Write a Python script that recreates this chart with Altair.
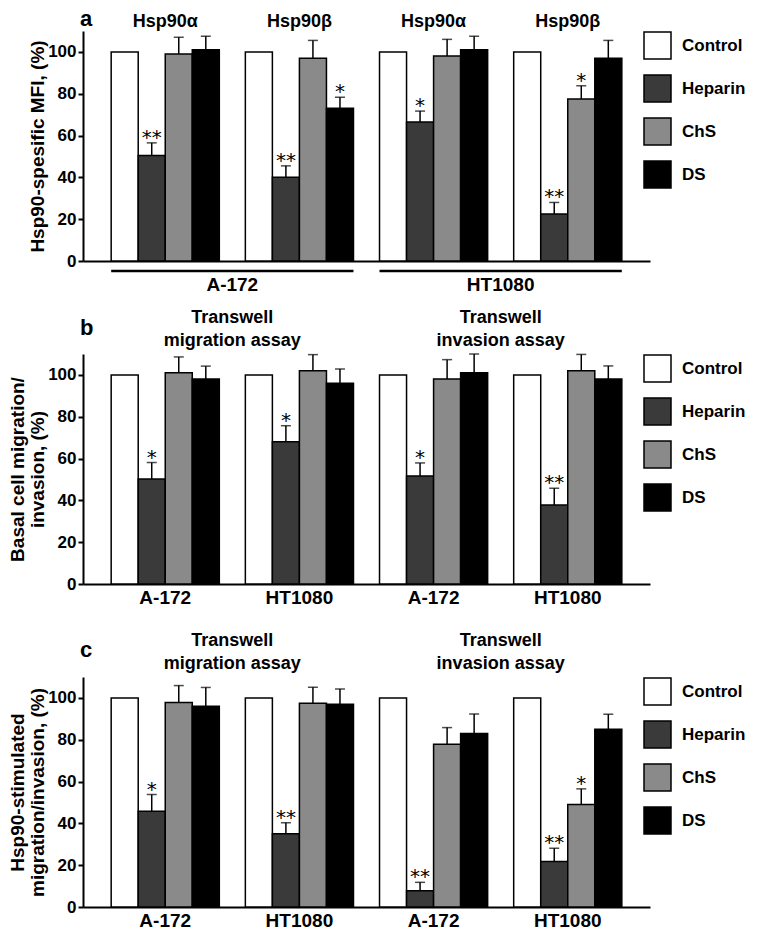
import altair as alt
import pandas as pd

FONT = "Arial, Liberation Sans, sans-serif"
STAR_FONT = "DejaVu Sans"

treatments = ["Control", "Heparin", "ChS", "DS"]
fill_colors = ["#ffffff", "#3a3a3a", "#8a8a8a", "#000000"]
y_ticks = [0, 20, 40, 60, 80, 100]

# ---------------- panel a ----------------
a_groups = ["A-172|Hsp90α", "A-172|Hsp90β", "HT1080|Hsp90α", "HT1080|Hsp90β"]
a_top_labels = ["Hsp90α", "Hsp90β", "Hsp90α", "Hsp90β"]
a_cell_start = ["A-172|Hsp90α", "HT1080|Hsp90α"]
a_cell_end = ["A-172|Hsp90β", "HT1080|Hsp90β"]
a_cell_labels = ["A-172", "HT1080"]
a_means = {
    "Control": [100, 100, 100, 100],
    "Heparin": [50.5, 40, 66.5, 22.5],
    "ChS": [99, 97, 98, 77.5],
    "DS": [101, 73, 101, 97],
}
a_errs = {
    "Control": [0, 0, 0, 0],
    "Heparin": [6, 5.5, 5.2, 5.5],
    "ChS": [8, 8.5, 8, 6.3],
    "DS": [6.5, 5.3, 6.5, 8.5],
}
a_stars = {
    "Control": ["", "", "", ""],
    "Heparin": ["**", "**", "*", "**"],
    "ChS": ["", "", "", "*"],
    "DS": ["", "*", "", ""],
}

# ---------------- panel b ----------------
bc_groups = ["Migration|A-172", "Migration|HT1080", "Invasion|A-172", "Invasion|HT1080"]
bc_assay_start = ["Migration|A-172", "Invasion|A-172"]
bc_assay_line1 = ["Transwell", "Transwell"]
bc_assay_line2 = ["migration assay", "invasion assay"]
b_means = {
    "Control": [100, 100, 100, 100],
    "Heparin": [50.2, 68, 51.6, 37.8],
    "ChS": [101, 102, 98, 102],
    "DS": [98, 96, 101, 98],
}
b_errs = {
    "Control": [0, 0, 0, 0],
    "Heparin": [7.9, 7.7, 6.3, 8],
    "ChS": [7.6, 7.7, 9.3, 7.8],
    "DS": [6.2, 6.8, 9, 6.3],
}
b_stars = {
    "Control": ["", "", "", ""],
    "Heparin": ["*", "*", "*", "**"],
    "ChS": ["", "", "", ""],
    "DS": ["", "", "", ""],
}

# ---------------- panel c ----------------
c_means = {
    "Control": [100, 100, 100, 100],
    "Heparin": [45.8, 35, 7.8, 21.8],
    "ChS": [97.8, 97.5, 77.8, 49],
    "DS": [96, 97, 83, 85],
}
c_errs = {
    "Control": [0, 0, 0, 0],
    "Heparin": [8, 5.3, 4, 6.3],
    "ChS": [8.1, 7.6, 8, 7.5],
    "DS": [9, 7.3, 9.3, 7.2],
}
c_stars = {
    "Control": ["", "", "", ""],
    "Heparin": ["*", "**", "**", "**"],
    "ChS": ["", "", "", "*"],
    "DS": ["", "", "", ""],
}

W, H = 567, 230


def long_df(groups, means, errs, stars):
    rows = []
    for t in treatments:
        for i, g in enumerate(groups):
            rows.append(dict(group=g, treatment=t, mean=means[t][i], err=errs[t][i],
                             top=means[t][i] + errs[t][i], star=stars[t][i]))
    return pd.DataFrame(rows)


def panel(groups, means, errs, stars, ytitle, letter, letter_y, show_xlabels):
    df = long_df(groups, means, errs, stars)
    xs = alt.Scale(domain=groups, paddingInner=0.194, paddingOuter=0.21)
    if show_xlabels:
        xaxis = alt.Axis(title=None, ticks=False, labelAngle=0, domainWidth=2,
                         labelExpr="split(datum.label, '|')[1]",
                         labelFontSize=19, labelFontWeight="bold", labelPadding=4)
    else:
        xaxis = alt.Axis(title=None, ticks=False, labels=False, domainWidth=2)
    ys = alt.Scale(domain=[0, 110], nice=False)
    yaxis = alt.Axis(values=y_ticks, title=ytitle, domainWidth=2, tickWidth=2, tickSize=5,
                     labelFontSize=17, labelFontWeight="bold", labelPadding=2,
                     titleFontSize=19, titleFontWeight="bold", titlePadding=0,
                     titleLineHeight=20)
    xoff = alt.XOffset("treatment:N", scale=alt.Scale(domain=treatments, paddingInner=0, paddingOuter=0))

    def X(**kw):
        return alt.X("group:N", scale=xs, axis=xaxis, **kw)

    def Y(field):
        return alt.Y(field, scale=ys, axis=yaxis)

    base = alt.Chart(df)
    bars = base.mark_bar(stroke="black", strokeWidth=1.5).encode(
        x=X(), xOffset=xoff, y=Y("mean:Q"),
        fill=alt.Fill("treatment:N",
                      scale=alt.Scale(domain=treatments, range=fill_colors),
                      legend=alt.Legend(orient="none", legendX=560, legendY=0, title=None,
                                        symbolType="square", symbolSize=729,
                                        symbolStrokeColor="black", symbolStrokeWidth=1.5,
                                        symbolOpacity=1, labelFont=FONT, labelFontSize=17,
                                        labelFontWeight="bold", labelColor="black",
                                        rowPadding=10, labelOffset=10)),
    )
    errdf = base.transform_filter("datum.err > 0")
    err_line = errdf.mark_rule(color="black", strokeWidth=1.5).encode(
        x=X(), xOffset=xoff, y=Y("mean:Q"), y2="top:Q")
    err_cap = errdf.mark_tick(color="black", thickness=1.5, size=10).encode(
        x=X(), xOffset=xoff, y=Y("top:Q"))
    star_txt = base.transform_filter("datum.star != ''").mark_text(
        font=STAR_FONT, fontSize=20, baseline="alphabetic", dy=1, color="black").encode(
        x=X(), xOffset=xoff, y=Y("top:Q"), text="star:N")

    letter_df = pd.DataFrame({"t": [letter]})
    letter_txt = alt.Chart(letter_df).mark_text(
        font=FONT, fontSize=22, fontWeight="bold", align="left", baseline="alphabetic",
        color="black").encode(x=alt.value(-3), y=alt.value(letter_y), text="t:N")

    layers = [bars, err_line, err_cap, star_txt, letter_txt]
    return layers, X, Y


# ---- panel a assembly
a_layers, aX, aY = panel(a_groups, a_means, a_errs, a_stars, "Hsp90-spesific MFI, (%)", "a", -5, False)
a_top_df = pd.DataFrame({"group": a_groups, "label": a_top_labels})
a_top = alt.Chart(a_top_df).mark_text(font=FONT, fontSize=18, fontWeight="bold",
                                      baseline="alphabetic", color="black").encode(
    x=aX(), y=alt.value(-4), text="label:N")
a_br_df = pd.DataFrame({"group": a_cell_start, "group_end": a_cell_end, "label": a_cell_labels})
a_br = alt.Chart(a_br_df).mark_rule(color="black", strokeWidth=2.5).encode(
    x=aX(bandPosition=0), x2=alt.X2("group_end:N", bandPosition=1), y=alt.value(H + 10))
a_br_txt = alt.Chart(a_br_df).mark_text(font=FONT, fontSize=19, fontWeight="bold",
                                        baseline="alphabetic", dx=13, color="black").encode(
    x=aX(bandPosition=1), y=alt.value(H + 30), text="label:N")
chart_a = alt.layer(*a_layers, a_top, a_br, a_br_txt).properties(width=W, height=H)


def bc_panel(means, errs, stars, ytitle, letter, letter_y):
    layers, X, Y = panel(bc_groups, means, errs, stars, ytitle, letter, letter_y, True)
    tdf = pd.DataFrame({"group": bc_assay_start, "l1": bc_assay_line1, "l2": bc_assay_line2})
    t1 = alt.Chart(tdf).mark_text(font=FONT, fontSize=18, fontWeight="bold", dx=13,
                                  baseline="alphabetic", color="black").encode(
        x=X(bandPosition=1), y=alt.value(-31), text="l1:N")
    t2 = alt.Chart(tdf).mark_text(font=FONT, fontSize=18, fontWeight="bold", dx=13,
                                  baseline="alphabetic", color="black").encode(
        x=X(bandPosition=1), y=alt.value(-8), text="l2:N")
    return alt.layer(*layers, t1, t2).properties(width=W, height=H)


chart_b = bc_panel(b_means, b_errs, b_stars, ["Basal cell migration/", "invasion, (%)"], "b", -19)
chart_c = bc_panel(c_means, c_errs, c_stars, ["Hsp90-stimulated", "migration/invasion, (%)"], "c", -20)

chart = alt.vconcat(chart_a, chart_b, chart_c, spacing=93, bounds="flush").resolve_scale(
    fill="independent"
).properties(
    padding={"left": 0, "top": 0, "right": 0, "bottom": 0}
).configure_view(stroke=None).configure_axis(
    domainColor="black", tickColor="black", labelColor="black", titleColor="black",
    labelFont=FONT, titleFont=FONT, grid=False
)

chart.save("out.html", embed_options={"renderer": "svg", "actions": False})
